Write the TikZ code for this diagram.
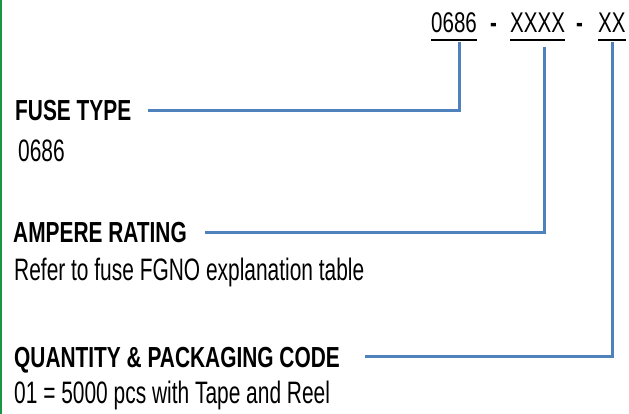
\documentclass[tikz,border=0pt]{standalone}
\usepackage{xcolor}
\usepackage{fontspec}
\newfontfamily\headfont{Liberation Sans}[FakeStretch=0.72]
\newfontfamily\bodyfont{Liberation Sans}[FakeStretch=0.675]
\usepackage{tikz}
\usetikzlibrary{positioning, calc}
\definecolor{linkblue}{RGB}{79,129,189}
\definecolor{edgegreen}{RGB}{24,150,70}

\begin{document}
\begin{tikzpicture}[
    x=1pt, y=-1pt,
    head/.style={anchor=base west, inner sep=0pt, text depth=0pt, font=\headfont\bfseries\fontsize{29}{31}\selectfont},
    body/.style={anchor=base west, inner sep=0pt, font=\bodyfont\fontsize{31}{33}\selectfont},
    code/.style={anchor=base west, inner sep=0pt, font=\headfont\fontsize{28.5}{30}\selectfont},
    uline/.style={line width=2.4pt, black},
    link/.style={line width=3pt, linkblue},
  ]
    \useasboundingbox (0,0) rectangle (629,414);
    \draw[line width=2pt, edgegreen] (1,0) -- (1,414);

    % part number
    \node[code] (pfx) at (431,33) {0686};
    \node[code] (dasha) at (490,33) {\textbf{-}};
    \node[code] (amp) at (510,33) {XXXX};
    \node[code] (dashb) at (576,33) {\textbf{-}};
    \node[code] (pkg) at (598,33) {XX};
    \foreach \n in {pfx, amp, pkg}
      \draw[uline] ([yshift=-7pt]\n.base west) -- ([yshift=-7pt]\n.base east);

    % descriptions
    \node[head] (fusehd) at (15,121) {FUSE TYPE};
    \node[body] (fusetxt) at (18,162) {0686};
    \node[head] (amphd) at (13,243) {AMPERE RATING};
    \node[body] (amptxt) at (14,280) {Refer to fuse FGNO explanation table};
    \node[head] (qtyhd) at (14,367) {QUANTITY \& PACKAGING CODE};
    \node[body] (qtytxt) at (14,403) {01 = 5000 pcs with Tape and Reel};

    \draw[link] ([xshift=17pt]fusehd.east) -| ([xshift=5pt,yshift=-9pt]pfx.base);
    \draw[link] ([xshift=18pt]amphd.east) -| ([xshift=7pt,yshift=-14pt]amp.base);
    \draw[link] ([xshift=25pt]qtyhd.east) -| ([xshift=1pt,yshift=-9pt]pkg.base);
  \end{tikzpicture}
\end{document}
